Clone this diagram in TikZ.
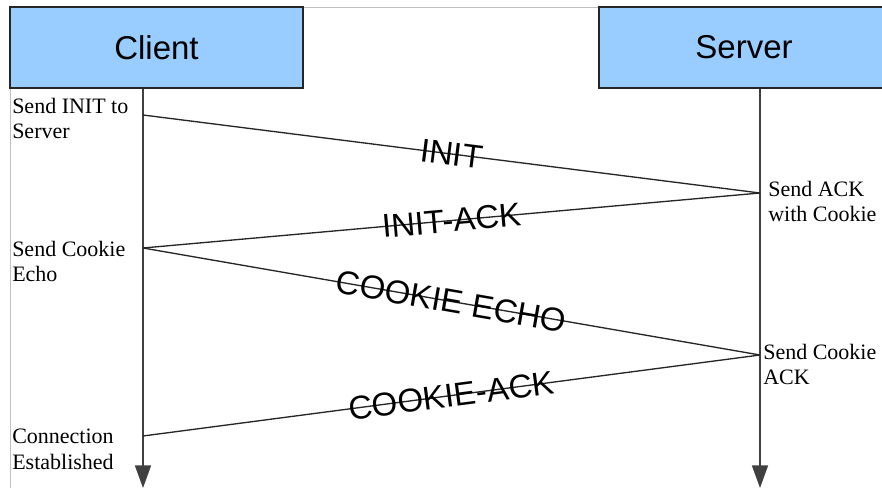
\documentclass[tikz,border=0pt]{standalone}
\usepackage{fontspec}
\setmainfont{Liberation Serif}
\setsansfont{Liberation Sans}
\usetikzlibrary{arrows.meta}
\definecolor{boxblue}{HTML}{99CCFF}

\begin{document}
\begin{tikzpicture}[x=0.75pt,y=-0.75pt]
    \tikzset{party/.style = {draw=black!85, fill=boxblue, line width=0.9pt, minimum height=60.75pt, inner sep=0pt, font=\sffamily\fontsize{24.75}{28}\selectfont}}
    \tikzset{life/.style = {-{Triangle[width=12pt,length=17pt]}, line width=1.3pt, black!75}}
    \tikzset{msg/.style = {line width=1pt, black!85}}
    \tikzset{msglabel/.style = {sloped, midway, inner sep=0pt, text=black, font=\sffamily\fontsize{24.75}{28}\selectfont}}
    \tikzset{note/.style = {anchor=north west, align=left, inner sep=0pt, font=\fontsize{16.5}{19}\selectfont}}
    \useasboundingbox (0,0) rectangle (882,488);
    \draw[black!25] (10,7) rectangle (900,520);
    % parties
    \node[party, minimum width=219.75pt] (client) at (156.5,47.5) {Client};
    \node[party, minimum width=217.5pt] (server) at (744,47.5) {Server};
    % lifelines
    \coordinate (cend) at (143,488);
    \coordinate (send) at (760,488);
    \draw[life] (client.south -| cend) -- (cend);
    \draw[life] (server.south -| send) -- (send);
    % message points
    \coordinate (c1) at (143,115);
    \coordinate (s1) at (760,193);
    \coordinate (c2) at (143,248);
    \coordinate (s2) at (760,355);
    \coordinate (c3) at (143,436);
    % messages
    \draw[msg] (c1) -- node[msglabel] {INIT} (s1);
    \draw[msg] (s1) -- node[msglabel] {INIT-ACK} (c2);
    \draw[msg] (c2) -- node[msglabel] {COOKIE ECHO} (s2);
    \draw[msg] (s2) -- node[msglabel] {COOKIE-ACK} (c3);
    % notes
    \node[note] (n1) at (12,98) {Send INIT to\\Server};
    \node[note] (n2) at (768,181) {Send ACK\\with Cookie};
    \node[note] (n3) at (12,241) {Send Cookie\\Echo};
    \node[note] (n4) at (763,344) {Send Cookie\\ACK};
    \node[note] (n5) at (12,429) {Connection\\Established};
\end{tikzpicture}
\end{document}
